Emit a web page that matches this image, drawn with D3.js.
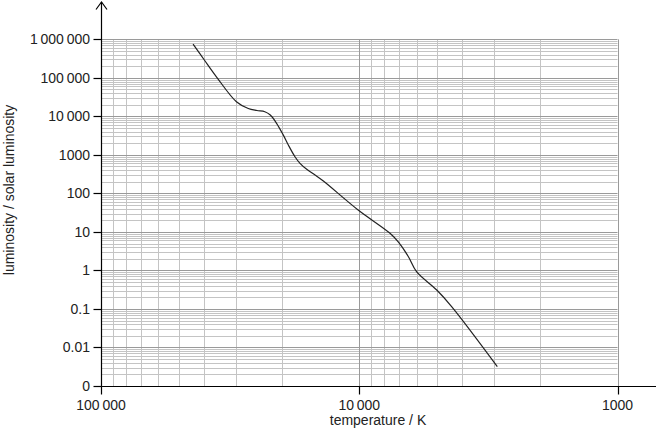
<!DOCTYPE html>
<html><head><meta charset="utf-8">
<script src="https://cdn.jsdelivr.net/npm/d3@7"></script>
<style>body{margin:0;background:#fff}svg{display:block}text{font-family:"Liberation Sans",Arial,sans-serif;}</style>
</head><body>
<svg id="c" width="659" height="436"></svg>
<script>
const temperature = [44000, 39800, 35500, 29900, 26900, 24900, 23200, 22100, 20900, 19700, 18820, 17740, 16960, 15970, 14830, 13770, 10100, 7600, 7050, 6450, 6000, 5010, 4380, 2920];
const luminosity = [750000, 290000, 100000, 24000, 16000, 14200, 13200, 10800, 6600, 3300, 1800, 895, 604, 422, 300, 209, 37, 9.2, 5.4, 2.27, 0.93, 0.31, 0.114, 0.0032];
const xTickValues = [100000, 10000, 1000];
const xTickLabels = ["100\u2009000", "10\u2009000", "1000"];
const yTickValues = [0.001, 0.01, 0.1, 1, 10, 100, 1000, 10000, 100000, 1000000];
const yTickLabels = ["0", "0.01", "0.1", "1", "10", "100", "1000", "10\u2009000", "100\u2009000", "1\u2009000\u2009000"];

const svg = d3.select("#c");
const x = d3.scaleLog().domain([100000, 1000]).range([101, 617.5]);
const y = d3.scaleLog().domain([0.001, 1000000]).range([386, 39.3]);

// minor grid values
const xMinor = [], yMinor = [];
for (let d = 1000; d < 100000; d *= 10) for (let k = 2; k <= 9; k++) xMinor.push(d * k);
for (let d = 0.001; d < 999999; d *= 10) for (let k = 2; k <= 9; k++) yMinor.push(d * k);

const g = svg.append("g");
g.selectAll(".xm").data(xMinor).enter().append("line")
  .attr("x1", d => Math.round(x(d)) + 0.5).attr("x2", d => Math.round(x(d)) + 0.5)
  .attr("y1", y(1000000)).attr("y2", y(0.001))
  .attr("stroke", "#c4c4c4").attr("stroke-width", 1);
g.selectAll(".ym").data(yMinor).enter().append("line")
  .attr("y1", d => Math.round(y(d)) + 0.5).attr("y2", d => Math.round(y(d)) + 0.5)
  .attr("x1", x(100000)).attr("x2", x(1000))
  .attr("stroke", "#c4c4c4").attr("stroke-width", 1);
g.selectAll(".xM").data(xTickValues).enter().append("line")
  .attr("x1", d => Math.round(x(d)) + 0.5).attr("x2", d => Math.round(x(d)) + 0.5)
  .attr("y1", y(1000000)).attr("y2", y(0.001))
  .attr("stroke", "#9a9a9a").attr("stroke-width", 1);
g.selectAll(".yM").data(yTickValues).enter().append("line")
  .attr("y1", d => Math.round(y(d)) + 0.5).attr("y2", d => Math.round(y(d)) + 0.5)
  .attr("x1", x(100000)).attr("x2", x(1000))
  .attr("stroke", "#9a9a9a").attr("stroke-width", 1);

// curve
const pts = temperature.map((t, i) => [x(t), y(luminosity[i])]);
svg.append("path").attr("d", d3.line().curve(d3.curveCatmullRom.alpha(0.5))(pts))
  .attr("fill", "none").attr("stroke", "#222").attr("stroke-width", 1.2);

// axes
const ax = svg.append("g").attr("stroke", "#000").attr("stroke-width", 1.2).attr("fill", "none");
const x0 = Math.round(x(100000)) + 0.5, yb = Math.round(y(0.001)) + 0.5;
ax.append("line").attr("x1", x0).attr("x2", x0).attr("y1", 2).attr("y2", yb);
ax.append("path").attr("d", `M${x0 - 5.5},${9.5}L${x0},${2}L${x0 + 5.5},${9.5}`);
ax.append("line").attr("x1", x0).attr("x2", 656).attr("y1", yb).attr("y2", yb);
ax.selectAll(".xt").data(xTickValues).enter().append("line")
  .attr("x1", d => Math.round(x(d)) + 0.5).attr("x2", d => Math.round(x(d)) + 0.5)
  .attr("y1", yb).attr("y2", yb + 8);
ax.selectAll(".yt").data(yTickValues).enter().append("line")
  .attr("y1", d => Math.round(y(d)) + 0.5).attr("y2", d => Math.round(y(d)) + 0.5)
  .attr("x1", x0 - 8).attr("x2", x0);

// labels
svg.selectAll(".xl").data(xTickValues).enter().append("text")
  .attr("x", d => x(d)).attr("y", 409.5).attr("text-anchor", "middle")
  .attr("font-size", 14).attr("fill", "#222").text((d, i) => xTickLabels[i]);
svg.selectAll(".yl").data(yTickValues).enter().append("text")
  .attr("x", 90).attr("y", d => y(d) + 5).attr("text-anchor", "end")
  .attr("font-size", 14).attr("fill", "#222").text((d, i) => yTickLabels[i]);
svg.append("text").attr("x", 378).attr("y", 425).attr("text-anchor", "middle")
  .attr("font-size", 14).attr("fill", "#222").text("temperature / K");
svg.append("text").attr("transform", "translate(14,190) rotate(-90)").attr("text-anchor", "middle")
  .attr("font-size", 14).attr("fill", "#222").text("luminosity / solar luminosity");
</script>
</body></html>
